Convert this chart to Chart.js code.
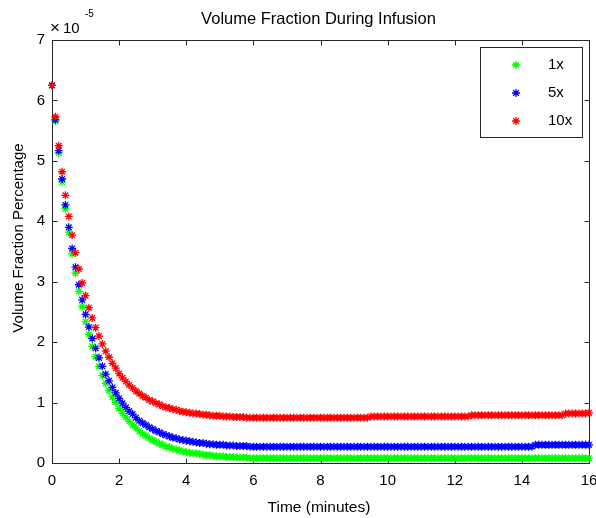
<!DOCTYPE html>
<html>
<head>
<meta charset="utf-8">
<script src="https://cdn.jsdelivr.net/npm/chart.js@4/dist/chart.umd.min.js"></script>
<style>
  html, body { margin: 0; padding: 0; background: #ffffff; }
  #wrap { width: 596px; height: 518px; }
</style>
</head>
<body>
<div id="wrap"><canvas id="c" width="596" height="518"></canvas></div>
<script>
// Time in minutes (sampling of the markers)
const time = [
  0,0.1,0.2,0.3,0.4,0.5,0.6,0.7,0.8,0.9,
  1,1.1,1.2,1.3,1.4,1.5,1.6,1.7,1.8,1.9,
  2,2.1,2.2,2.3,2.4,2.5,2.6,2.7,2.8,2.9,
  3,3.1,3.2,3.3,3.4,3.5,3.6,3.7,3.8,3.9,
  4,4.1,4.2,4.3,4.4,4.5,4.6,4.7,4.8,4.9,
  5,5.1,5.2,5.3,5.4,5.5,5.6,5.7,5.8,5.9,
  6,6.1,6.2,6.3,6.4,6.5,6.6,6.7,6.8,6.9,
  7,7.1,7.2,7.3,7.4,7.5,7.6,7.7,7.8,7.9,
  8,8.1,8.2,8.3,8.4,8.5,8.6,8.7,8.8,8.9,
  9,9.1,9.2,9.3,9.4,9.5,9.6,9.7,9.8,9.9,
  10,10.1,10.2,10.3,10.4,10.5,10.6,10.7,10.8,10.9,
  11,11.1,11.2,11.3,11.4,11.5,11.6,11.7,11.8,11.9,
  12,12.1,12.2,12.3,12.4,12.5,12.6,12.7,12.8,12.9,
  13,13.1,13.2,13.3,13.4,13.5,13.6,13.7,13.8,13.9,
  14,14.1,14.2,14.3,14.4,14.5,14.6,14.7,14.8,14.9,
  15,15.1,15.2,15.3,15.4,15.5,15.6,15.7,15.8,15.9,
  16
];

// Volume fraction values, in units of 1e-5
const series1x = [
  6.25,5.66,5.13,4.65,4.21,3.82,3.46,3.14,2.84,2.59,
  2.34,2.13,1.93,1.76,1.60,1.45,1.32,1.20,1.09,1.00,
  0.90,0.82,0.76,0.69,0.63,0.58,0.53,0.48,0.45,0.41,
  0.38,0.35,0.32,0.30,0.27,0.26,0.24,0.22,0.21,0.19,
  0.18,0.17,0.16,0.16,0.15,0.14,0.13,0.13,0.12,0.11,
  0.11,0.11,0.10,0.10,0.10,0.09,0.09,0.09,0.09,0.08,
  0.08,0.08,0.08,0.08,0.08,0.08,0.08,0.08,0.08,0.08,
  0.08,0.08,0.08,0.08,0.08,0.08,0.08,0.08,0.08,0.08,
  0.08,0.08,0.08,0.08,0.08,0.08,0.08,0.08,0.08,0.08,
  0.08,0.08,0.08,0.08,0.08,0.08,0.08,0.08,0.08,0.08,
  0.08,0.08,0.08,0.08,0.08,0.08,0.08,0.08,0.08,0.08,
  0.08,0.08,0.08,0.08,0.08,0.08,0.08,0.08,0.08,0.08,
  0.08,0.08,0.08,0.08,0.08,0.08,0.08,0.08,0.08,0.08,
  0.08,0.08,0.08,0.08,0.08,0.08,0.08,0.08,0.08,0.08,
  0.08,0.08,0.08,0.08,0.08,0.08,0.08,0.08,0.08,0.08,
  0.08,0.08,0.08,0.08,0.08,0.08,0.08,0.08,0.08,0.08,
  0.08
];
const series5x = [
  6.25,5.68,5.17,4.70,4.27,3.90,3.55,3.24,2.95,2.70,
  2.46,2.25,2.06,1.90,1.74,1.60,1.47,1.36,1.25,1.16,
  1.07,0.99,0.92,0.86,0.81,0.75,0.70,0.66,0.63,0.59,
  0.56,0.53,0.51,0.48,0.46,0.44,0.42,0.41,0.39,0.38,
  0.37,0.36,0.35,0.34,0.33,0.33,0.32,0.31,0.31,0.30,
  0.30,0.30,0.29,0.29,0.29,0.28,0.28,0.28,0.28,0.27,
  0.27,0.27,0.27,0.27,0.27,0.27,0.27,0.27,0.27,0.27,
  0.27,0.27,0.27,0.27,0.27,0.27,0.27,0.27,0.27,0.27,
  0.27,0.27,0.27,0.27,0.27,0.27,0.27,0.27,0.27,0.27,
  0.27,0.27,0.27,0.27,0.27,0.27,0.27,0.27,0.27,0.27,
  0.27,0.27,0.27,0.27,0.27,0.27,0.27,0.27,0.27,0.27,
  0.27,0.27,0.27,0.27,0.27,0.27,0.27,0.27,0.27,0.27,
  0.27,0.27,0.27,0.27,0.27,0.27,0.27,0.27,0.27,0.27,
  0.27,0.27,0.27,0.27,0.27,0.27,0.27,0.27,0.27,0.27,
  0.27,0.27,0.27,0.27,0.30,0.30,0.30,0.30,0.30,0.30,
  0.30,0.30,0.30,0.30,0.30,0.30,0.30,0.30,0.30,0.30,
  0.30
];
const series10x = [
  6.25,5.73,5.25,4.82,4.43,4.08,3.77,3.48,3.21,2.98,
  2.77,2.57,2.40,2.24,2.10,1.97,1.85,1.75,1.65,1.57,
  1.48,1.41,1.35,1.29,1.24,1.19,1.15,1.11,1.08,1.04,
  1.02,0.99,0.97,0.94,0.92,0.91,0.89,0.88,0.86,0.85,
  0.84,0.83,0.82,0.82,0.81,0.80,0.80,0.79,0.78,0.78,
  0.78,0.77,0.77,0.77,0.76,0.76,0.76,0.76,0.75,0.75,
  0.75,0.75,0.75,0.75,0.75,0.75,0.75,0.75,0.75,0.75,
  0.75,0.75,0.75,0.75,0.75,0.75,0.75,0.75,0.75,0.75,
  0.75,0.75,0.75,0.75,0.75,0.75,0.75,0.75,0.75,0.75,
  0.75,0.75,0.75,0.75,0.75,0.77,0.77,0.77,0.77,0.77,
  0.77,0.77,0.77,0.77,0.77,0.77,0.77,0.77,0.77,0.77,
  0.77,0.77,0.77,0.77,0.77,0.77,0.77,0.77,0.77,0.77,
  0.77,0.77,0.77,0.77,0.77,0.79,0.79,0.79,0.79,0.79,
  0.79,0.79,0.79,0.79,0.79,0.79,0.79,0.79,0.79,0.79,
  0.79,0.79,0.79,0.79,0.79,0.79,0.79,0.79,0.79,0.79,
  0.79,0.79,0.79,0.82,0.82,0.82,0.82,0.82,0.82,0.82,
  0.83
];

const seriesLabels = ['1x', '5x', '10x'];
const seriesColors = ['#00ff00', '#0000ff', '#ff0000'];
const xTicks = [0, 2, 4, 6, 8, 10, 12, 14, 16];
const yTicks = [0, 1, 2, 3, 4, 5, 6, 7];
const chartTitle = 'Volume Fraction During Infusion';
const xTitle = 'Time (minutes)';
const yTitle = 'Volume Fraction Percentage';
const multiplierSign = '\u00d7';
const multiplierBase = '10';
const multiplierExp = '-5';

const FONT = '"Liberation Sans", Arial, Helvetica, sans-serif';
const AXIS_COLOR = '#262626';

function toPoints(vals) { return time.map((t, i) => ({ x: t, y: vals[i] })); }

const allSeries = [series1x, series5x, series10x];
const datasets = allSeries.map((vals, i) => ({
  label: seriesLabels[i],
  data: toPoints(vals),
  showLine: false,
  pointStyle: 'star',
  pointRadius: 4,
  pointHoverRadius: 4,
  pointBorderWidth: 1.3,
  borderColor: seriesColors[i],
  backgroundColor: seriesColors[i],
  order: allSeries.length - i,
  clip: false
}));

function drawStar(ctx, cx, cy, r, color, lw) {
  ctx.save();
  ctx.strokeStyle = color;
  ctx.lineWidth = lw;
  ctx.beginPath();
  ctx.moveTo(cx - r, cy); ctx.lineTo(cx + r, cy);
  ctx.moveTo(cx, cy - r); ctx.lineTo(cx, cy + r);
  const d = r * Math.SQRT1_2;
  ctx.moveTo(cx - d, cy - d); ctx.lineTo(cx + d, cy + d);
  ctx.moveTo(cx - d, cy + d); ctx.lineTo(cx + d, cy - d);
  ctx.stroke();
  ctx.restore();
}

const decorPlugin = {
  id: 'decor',
  beforeDatasetsDraw(chart) {
    const { ctx, chartArea: a, scales } = chart;
    const xs = scales.x, ys = scales.y;
    ctx.save();
    ctx.strokeStyle = AXIS_COLOR;
    ctx.lineWidth = 1;
    const L = Math.round(a.left) + 0.5, R = Math.round(a.right) + 0.5;
    const T = Math.round(a.top) + 0.5, B = Math.round(a.bottom) + 0.5;
    ctx.beginPath();
    ctx.rect(L, T, R - L, B - T);
    const tl = 5;
    xTicks.forEach(v => {
      const px = Math.round(xs.getPixelForValue(v)) + 0.5;
      ctx.moveTo(px, B); ctx.lineTo(px, B - tl);
      ctx.moveTo(px, T); ctx.lineTo(px, T + tl);
    });
    yTicks.forEach(v => {
      const py = Math.round(ys.getPixelForValue(v)) + 0.5;
      ctx.moveTo(L, py); ctx.lineTo(L + tl, py);
      ctx.moveTo(R, py); ctx.lineTo(R - tl, py);
    });
    ctx.stroke();
    ctx.restore();
  },
  afterDraw(chart) {
    const { ctx, chartArea: a } = chart;
    ctx.save();
    ctx.fillStyle = '#000000';
    // Title
    ctx.font = '16.5px ' + FONT;
    ctx.textAlign = 'center';
    ctx.textBaseline = 'alphabetic';
    ctx.fillText(chartTitle, (a.left + a.right) / 2 - 2, 24);
    // X axis title
    ctx.font = '15.5px ' + FONT;
    ctx.textBaseline = 'middle';
    ctx.fillText(xTitle, 319, 508);
    // Y axis title
    ctx.save();
    ctx.translate(19, 238);
    ctx.rotate(-Math.PI / 2);
    ctx.font = '15px ' + FONT;
    ctx.fillText(yTitle, 0, 0);
    ctx.restore();
    // Multiplier
    ctx.textAlign = 'left';
    ctx.textBaseline = 'alphabetic';
    ctx.font = '17px ' + FONT;
    ctx.fillText(multiplierSign, 50, 33);
    ctx.font = '15px ' + FONT;
    ctx.fillText(multiplierBase, 63, 33);
    ctx.font = '10px ' + FONT;
    ctx.fillText(multiplierExp, 85, 17);
    // Legend box
    const bx = 480.5, by = 47.5, bw = 102, bh = 90;
    ctx.fillStyle = '#ffffff';
    ctx.fillRect(bx, by, bw, bh);
    ctx.strokeStyle = AXIS_COLOR;
    ctx.lineWidth = 1;
    ctx.strokeRect(bx, by, bw, bh);
    ctx.font = '15px ' + FONT;
    ctx.textBaseline = 'middle';
    ctx.fillStyle = '#000000';
    seriesLabels.forEach((lab, i) => {
      const yy = 65 + i * 28;
      drawStar(ctx, 516, yy, 4, seriesColors[i], 1.3);
      ctx.fillText(lab, 548, yy);
    });
    ctx.restore();
  }
};

new Chart(document.getElementById('c'), {
  type: 'scatter',
  data: { datasets },
  options: {
    responsive: false,
    animation: false,
    devicePixelRatio: 1,
    layout: { padding: { left: 0, top: 40, right: 7, bottom: 0 } },
    plugins: {
      legend: { display: false },
      title: { display: false },
      tooltip: { enabled: false }
    },
    scales: {
      x: {
        type: 'linear',
        min: 0, max: 16,
        afterFit: s => { s.height = 55; s.paddingLeft = 0; s.paddingRight = 0; },
        afterBuildTicks: s => { s.ticks = xTicks.map(v => ({ value: v })); },
        grid: { display: false, drawTicks: false },
        border: { display: false },
        ticks: { color: '#000', padding: 9, font: { family: FONT, size: 15 }, maxRotation: 0, autoSkip: false }
      },
      y: {
        type: 'linear',
        min: 0, max: 7,
        afterFit: s => { s.width = 52; s.paddingTop = 0; s.paddingBottom = 0; },
        afterBuildTicks: s => { s.ticks = yTicks.map(v => ({ value: v })); },
        grid: { display: false, drawTicks: false },
        border: { display: false },
        ticks: { color: '#000', padding: 7, font: { family: FONT, size: 15 }, autoSkip: false }
      }
    }
  },
  plugins: [decorPlugin]
});
</script>
</body>
</html>
